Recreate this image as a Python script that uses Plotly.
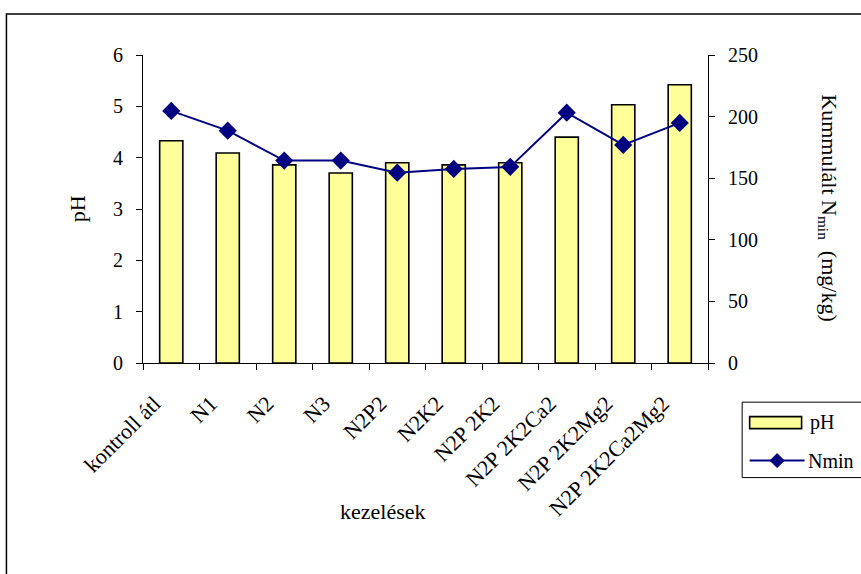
import plotly.graph_objects as go

categories = ["kontroll átl", "N1", "N2", "N3", "N2P2", "N2K2", "N2P 2K2",
              "N2P 2K2Ca2", "N2P 2K2Mg2", "N2P 2K2Ca2Mg2"]
ph_values = [4.33, 4.09, 3.86, 3.70, 3.90, 3.86, 3.90, 4.40, 5.03, 5.42]
nmin_values = [204.6, 188.6, 164.3, 164.3, 154.5, 157.5, 159.2, 203.2, 177.0, 194.9]
ph_ticks = [0, 1, 2, 3, 4, 5, 6]
nmin_ticks = [0, 50, 100, 150, 200, 250]

W, H = 861, 574
L, R, T, B = 142.7, 708.3, 55.0, 363.3
FONT = "Liberation Serif, Times New Roman, serif"
FS = 20
XFS = 22
TFS = 22


def px(x):
    return (x - L) / (R - L)


def py(y):
    return (B - y) / (B - T)


fig = go.Figure()
fig.add_trace(go.Bar(
    x=categories, y=ph_values, name="pH",
    marker=dict(color="#FFFF99", line=dict(color="black", width=1.6)),
    showlegend=False,
))
fig.add_trace(go.Scatter(
    x=categories, y=nmin_values, name="Nmin", yaxis="y2",
    mode="lines+markers",
    line=dict(color="#000080", width=2),
    marker=dict(symbol="diamond", size=14, color="#000080"),
    showlegend=False,
))

axis_common = dict(showline=True, linecolor="black", linewidth=1, ticks="outside",
                   ticklen=6, tickcolor="black", showgrid=False, zeroline=False)

fig.update_layout(
    width=W, height=H,
    margin=dict(l=L, r=W - R, t=T, b=H - B),
    paper_bgcolor="white", plot_bgcolor="white",
    bargap=0.59,
    font=dict(family=FONT, size=FS, color="black"),
    xaxis=dict(type="category", range=[-0.5, 9.5], tickson="boundaries",
               tickangle=-45, ticklabelstandoff=18, ticklabelshift=-17,
               tickfont=dict(family=FONT, size=XFS, color="black"), **axis_common),
    yaxis=dict(range=[0, 6], tickvals=ph_ticks, ticklabelstandoff=9,
               tickfont=dict(family=FONT, size=FS, color="black"), **axis_common),
    yaxis2=dict(range=[0, 250], tickvals=nmin_ticks, overlaying="y", side="right",
                ticklabelstandoff=9,
                tickfont=dict(family=FONT, size=FS, color="black"), **axis_common),
)

# outer chart border
fig.add_shape(type="rect", xref="paper", yref="paper",
              x0=px(6), x1=px(880), y0=py(600), y1=py(14),
              line=dict(color="black", width=1.5), fillcolor="rgba(0,0,0,0)")

# axis titles
fig.add_annotation(text="pH", xref="paper", yref="paper", x=px(77), y=py(209),
                   xanchor="center", yanchor="middle",
                   showarrow=False, textangle=-90, font=dict(family=FONT, size=TFS))
fig.add_annotation(text="kezelések", xref="paper", yref="paper", x=px(383), y=py(512),
                   xanchor="center", yanchor="middle",
                   showarrow=False, font=dict(family=FONT, size=TFS))
fig.add_annotation(text="Kummulált N<sub>min</sub>&nbsp;&nbsp;(mg/kg)", xref="paper",
                   yref="paper", x=px(829), y=py(208), xanchor="center", yanchor="middle",
                   showarrow=False, textangle=90, font=dict(family=FONT, size=TFS))

# legend (manual)
fig.add_shape(type="rect", xref="paper", yref="paper",
              x0=px(742.5), x1=px(880), y0=py(478), y1=py(402.5),
              line=dict(color="black", width=1), fillcolor="white")
fig.add_shape(type="rect", xref="paper", yref="paper",
              x0=px(750), x1=px(802), y0=py(429), y1=py(417),
              line=dict(color="black", width=1.6), fillcolor="#FFFF99")
fig.add_annotation(text="pH", xref="paper", yref="paper", x=px(808), y=py(423),
                   xanchor="left", yanchor="middle", showarrow=False,
                   font=dict(family=FONT, size=FS))
fig.add_shape(type="line", xref="paper", yref="paper",
              x0=px(750), x1=px(805), y0=py(461), y1=py(461),
              line=dict(color="#000080", width=2))
cx, cy, d = 777.5, 461, 7
fig.add_shape(type="path", xref="paper", yref="paper",
              path=(f"M {px(cx - d)},{py(cy)} L {px(cx)},{py(cy - d)} "
                    f"L {px(cx + d)},{py(cy)} L {px(cx)},{py(cy + d)} Z"),
              line=dict(color="#000080", width=1), fillcolor="#000080")
fig.add_annotation(text="Nmin", xref="paper", yref="paper", x=px(806), y=py(461),
                   xanchor="left", yanchor="middle", showarrow=False,
                   font=dict(family=FONT, size=FS))

fig.write_html("out.html")
